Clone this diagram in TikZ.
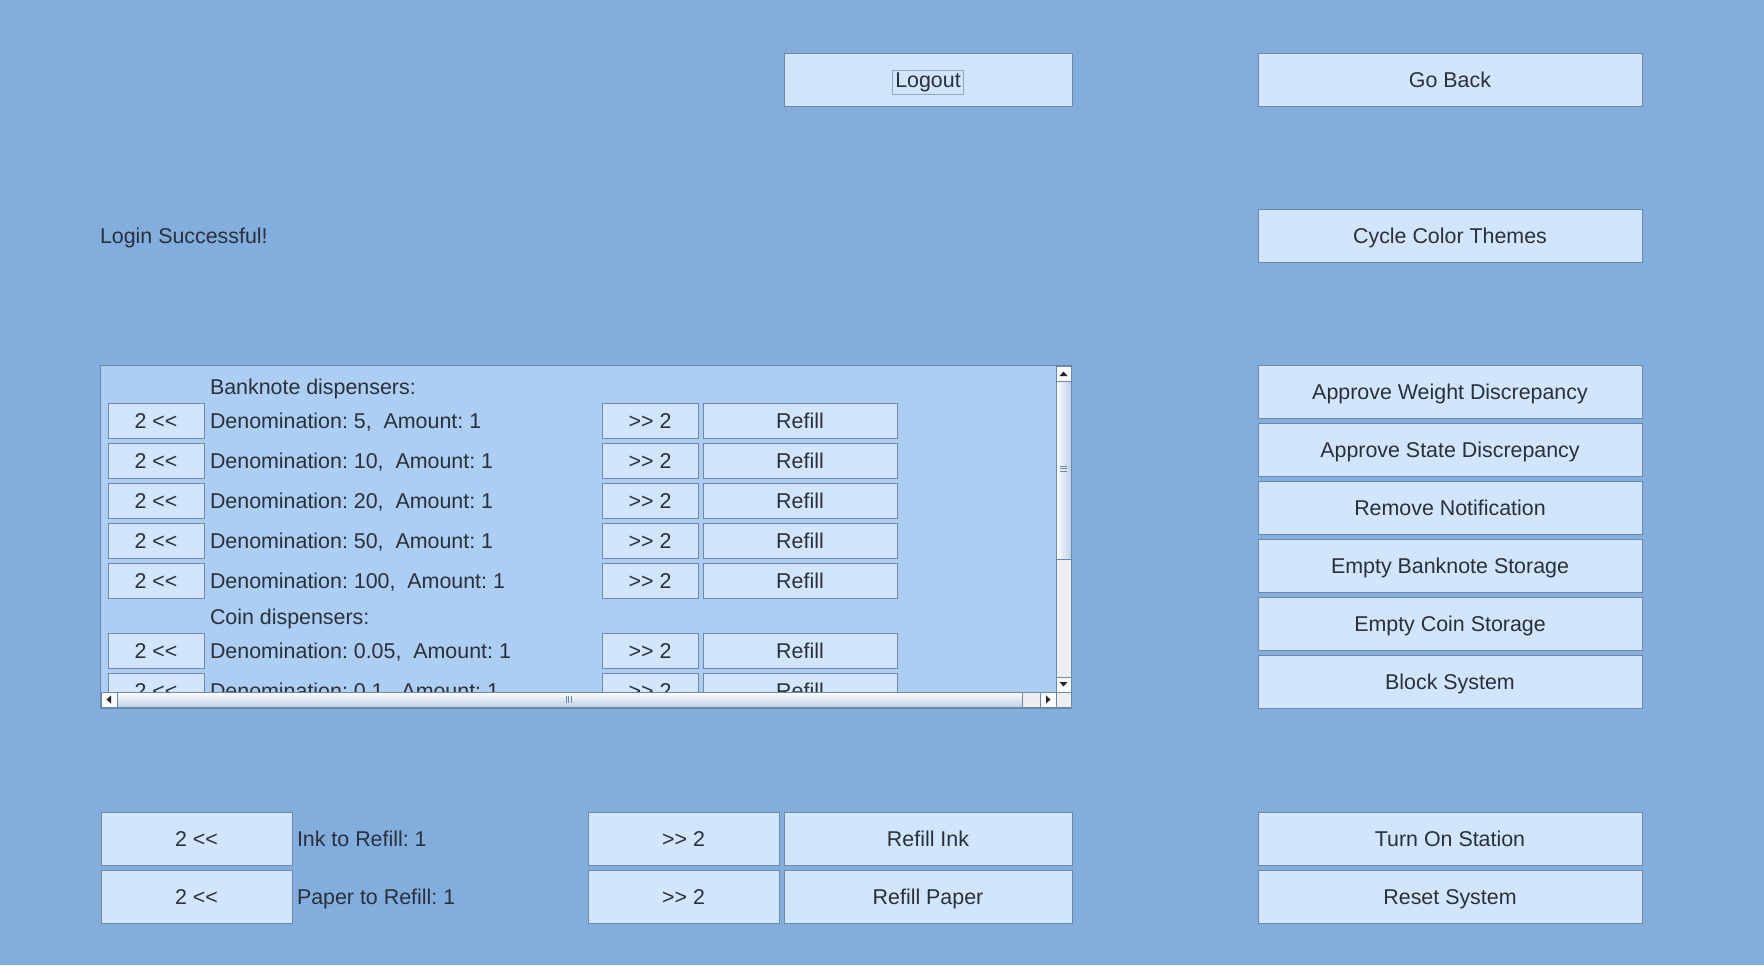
\documentclass[tikz,border=0pt]{standalone}
\usepackage{fontspec}
\setmainfont{Liberation Sans}
\usetikzlibrary{positioning}
\frenchspacing

\definecolor{bgblue}{RGB}{130,174,222}
\definecolor{paneblue}{RGB}{173,206,243}
\definecolor{paneline}{RGB}{108,134,168}
\definecolor{btnfill}{RGB}{209,229,252}
\definecolor{btnline}{RGB}{112,136,166}
\definecolor{txtgray}{RGB}{42,48,58}
\definecolor{trackgray}{RGB}{236,238,241}
\definecolor{thumbblue}{RGB}{190,208,230}
\definecolor{focusgray}{RGB}{150,165,185}

\newcommand{\guisize}{\fontsize{10.7pt}{13pt}\selectfont}
\newcommand{\backtwo}{2 <\kern0pt<}
\newcommand{\fwdtwo}{>\kern0pt> 2}
\newcommand{\focusbox}[1]{{\fboxsep=1.2pt\fboxrule=0.4pt\fcolorbox{focusgray}{btnfill}{#1}}}

\tikzset{
  btn/.style={draw=btnline, fill=btnfill, text=txtgray, inner sep=0pt, outer sep=0pt,
    minimum height=26.5pt, text height=7.6pt, text depth=0pt, font=\guisize},
  widebtn/.style={btn, minimum width=192pt},
  halfbtn/.style={btn, minimum width=95.5pt},
  cellbtn/.style={btn, minimum height=17.5pt, minimum width=48pt},
  refillbtn/.style={cellbtn, minimum width=97pt},
  lbl/.style={anchor=west, inner sep=0pt, outer sep=0pt, text=txtgray,
    text height=7.6pt, text depth=0pt, font=\guisize},
  arrowbox/.style={fill=white!70!trackgray, draw=btnline},
}

\begin{document}
\begin{tikzpicture}[x=0.5pt, y=-0.5pt]
	\fill[bgblue] (0,0) rectangle (1764,965);
	\useasboundingbox (0,0) rectangle (1764,965);
	% top
	\node[btn, minimum width=144pt] (logout) at (928,80) {\focusbox{Logout}};
	\node[widebtn] (goback) at (1450,80) {Go Back};
	\node[lbl] (login) at (100,236) {Login Successful!};
	\node[widebtn] (cycle) at (1450,236) {Cycle Color Themes};
	% right column
	\node[widebtn] (weight) at (1450,392) {Approve Weight Discrepancy};
	\node[widebtn, below=2.5pt of weight] (state) {Approve State Discrepancy};
	\node[widebtn, below=2.5pt of state] (notif) {Remove Notification};
	\node[widebtn, below=2.5pt of notif] (emptybank) {Empty Banknote Storage};
	\node[widebtn, below=2.5pt of emptybank] (emptycoin) {Empty Coin Storage};
	\node[widebtn, below=2.5pt of emptycoin] (block) {Block System};
	% bottom
	\node[halfbtn] (inkdown) at (196.5,838.5) {\backtwo};
	\node[lbl, right=2.5pt of inkdown] (inklbl) {Ink to Refill: 1};
	\node[halfbtn] (inkup) at (683.5,838.5) {\fwdtwo};
	\node[btn, minimum width=144pt, right=2.5pt of inkup] (refillink) {Refill Ink};
	\node[halfbtn, below=2.5pt of inkdown] (paperdown) {\backtwo};
	\node[lbl, right=2.5pt of paperdown] (paperlbl) {Paper to Refill: 1};
	\node[halfbtn, below=2.5pt of inkup] (paperup) {\fwdtwo};
	\node[btn, minimum width=144pt, below=2.5pt of refillink] (refillpaper) {Refill Paper};
	\node[widebtn] (turnon) at (1450,838.5) {Turn On Station};
	\node[widebtn, below=2.5pt of turnon] (reset) {Reset System};
	% dispenser pane
	\filldraw[fill=paneblue, draw=paneline] (100,365) rectangle (1071,708);
	\begin{scope}
		\clip (101,366) rectangle (1055,692);
		\node[lbl] (bankhead) at (210,386.5) {Banknote dispensers:};
		\foreach \val [count=\i] in {5,10,20,50,100}{
			\node[cellbtn] (bdown\i) at (156,380.5+40*\i) {\backtwo};
			\node[lbl, right=3pt of bdown\i] (blbl\i) {Denomination: \val,\ \ Amount: 1};
			\node[cellbtn] (bup\i) at (650,380.5+40*\i) {\fwdtwo};
			\node[refillbtn, right=2.5pt of bup\i] (bfill\i) {Refill};
		}
		\node[lbl] (coinhead) at (210,617) {Coin dispensers:};
		\foreach \val [count=\i] in {0.05,0.1}{
			\node[cellbtn] (cdown\i) at (156,610.5+40*\i) {\backtwo};
			\node[lbl, right=3pt of cdown\i] (clbl\i) {Denomination: \val,\ \ Amount: 1};
			\node[cellbtn] (cup\i) at (650,610.5+40*\i) {\fwdtwo};
			\node[refillbtn, right=2.5pt of cup\i] (cfill\i) {Refill};
		}
	\end{scope}
	% vertical scrollbar
	\filldraw[fill=trackgray, draw=btnline] (1056,366) rectangle (1071,692);
	\shade[left color=white, right color=thumbblue] (1056,381) rectangle (1071,559);
	\draw[btnline] (1056,381) rectangle (1071,559);
	\draw[btnline] (1060,466) -- (1067,466) (1060,468.5) -- (1067,468.5) (1060,471) -- (1067,471);
	\filldraw[arrowbox] (1056,366) rectangle (1071,381);
	\fill[black!85] (1059.5,376) -- (1067.5,376) -- (1063.5,371.5) -- cycle;
	\filldraw[arrowbox] (1056,677) rectangle (1071,692);
	\fill[black!85] (1059.5,682) -- (1067.5,682) -- (1063.5,686.5) -- cycle;
	% horizontal scrollbar
	\filldraw[fill=trackgray, draw=btnline] (101,692) rectangle (1056,707);
	\shade[top color=white, bottom color=thumbblue] (117,692) rectangle (1022,707);
	\draw[btnline] (117,692) rectangle (1022,707);
	\draw[btnline] (566,696) -- (566,703) (568.5,696) -- (568.5,703) (571,696) -- (571,703);
	\filldraw[arrowbox] (101,692) rectangle (117,707);
	\fill[black!85] (111,695.5) -- (111,703.5) -- (106.5,699.5) -- cycle;
	\filldraw[arrowbox] (1040,692) rectangle (1056,707);
	\fill[black!85] (1046,695.5) -- (1046,703.5) -- (1050.5,699.5) -- cycle;
	\filldraw[fill=trackgray, draw=btnline] (1056,692) rectangle (1071,707);
\end{tikzpicture}
\end{document}
